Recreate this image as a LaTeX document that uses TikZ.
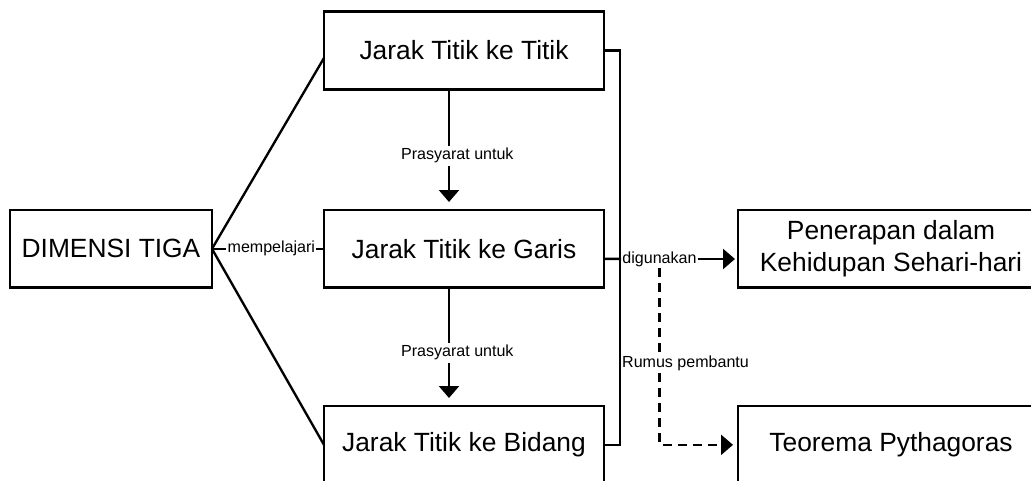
\documentclass[tikz,border=0pt]{standalone}
\usepackage{fontspec}
\setmainfont{Liberation Sans}
\usepackage{tikz}
\usetikzlibrary{arrows.meta}
\usetikzlibrary{positioning}
\usetikzlibrary{calc}
\newcommand\bigtxt{\fontsize{22.5pt}{27.3pt}\selectfont}
\newcommand\smalltxt{\fontsize{13.7pt}{16pt}\selectfont}
\newcommand\mybox[4][]{%
  \node[mybox,#1,minimum width=#2cm] (#3) {#4};
}

\begin{document}
\begin{tikzpicture}[
x=0.03cm, y=-0.03cm,
mybox/.style={
  draw,
  line width=2.2pt,
  outer sep=0pt,
  minimum height=2.33cm,
  align=center,
  font=\bigtxt},
mylabel/.style={
  fill=white,
  inner sep=2pt,
  font=\smalltxt},
myline/.style={line width=2pt},
myarrow/.style={
  myline,
  -{Triangle[width=0.6cm,length=0.36cm]},
  shorten >=0.24cm}
]
\useasboundingbox (0,0) rectangle (1031,481);
\mybox[at={(464,50.5)}]{8.4}{titik}{Jarak Titik ke Titik}
\mybox[below=3.62cm of titik]{8.4}{garis}{Jarak Titik ke Garis}
\mybox[below=3.55cm of garis]{8.4}{bidang}{Jarak Titik ke Bidang}
\mybox[left=3.36cm of garis]{6.06}{dimensi}{DIMENSI TIGA}
\mybox[right=4.02cm of garis]{9.18}{penerapan}{Penerapan dalam\\Kehidupan Sehari-hari}
\mybox[right=4.02cm of bidang]{9.18}{teorema}{Teorema Pythagoras}
% dimensi tiga ke tiga jarak
\draw [myline] (dimensi.east) -- ([yshift=-0.225cm]titik.west);
\draw [myline] (dimensi.east) -- node [mylabel, pos=0.53, inner sep=1pt]{mempelajari} (garis.west);
\draw [myline] (dimensi.east) -- (bidang.west);
% prasyarat
\draw [myarrow] ([xshift=-0.45cm]titik.south) -- node [mylabel, pos=0.55, xshift=0.25cm]{Prasyarat untuk} ([xshift=-0.45cm]garis.north);
\draw [myarrow] ([xshift=-0.45cm]garis.south) -- node [mylabel, pos=0.55, xshift=0.25cm]{Prasyarat untuk} ([xshift=-0.45cm]bidang.north);
% kurung kanan
\draw [myline] (titik.east) -| ($(bidang.east)+(16,0)$) -- (bidang.east);
\node [mylabel, inner sep=1pt] (guna) at (659.5,259) {digunakan};
\draw [myline] ([yshift=-0.3cm]garis.east) -- (guna);
\draw [myarrow, shorten >=0.09cm] (guna) -- (guna -| penerapan.west);
\draw [myarrow, dash pattern=on 0.27cm off 0.18cm, shorten >=0.15cm] (guna.south) |- node [mylabel, pos=0.27, xshift=0.78cm, inner sep=1pt]{Rumus pembantu} (teorema.west);
\end{tikzpicture}
\end{document}
